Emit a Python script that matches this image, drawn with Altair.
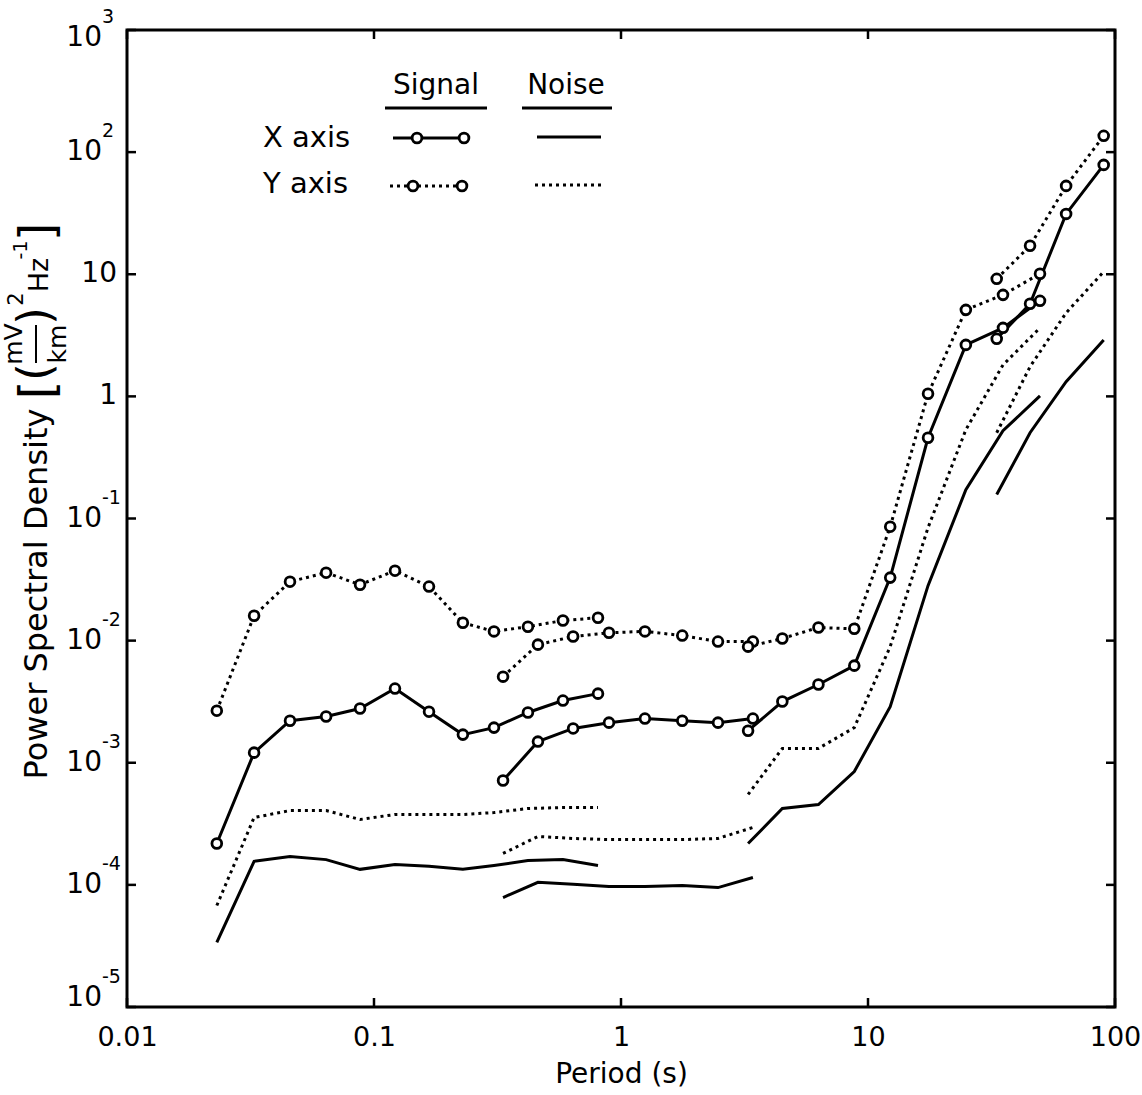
import altair as alt
import pandas as pd

# ---------------- data ----------------
seg1_period = [0.0231, 0.0327, 0.0457, 0.064, 0.0878, 0.1216, 0.167, 0.229, 0.306, 0.42, 0.582, 0.807]
seg2_period = [0.333, 0.461, 0.64, 0.894, 1.25, 1.77, 2.47, 3.42]
seg3_period = [3.27, 4.5, 6.3, 8.8, 12.3, 17.5, 24.9, 35.2, 49.7]
seg4_period = [33.2, 45.3, 63.4, 90.0]

seg1_x_signal = [2.18e-4, 1.21e-3, 2.21e-3, 2.39e-3, 2.78e-3, 4.05e-3, 2.62e-3, 1.70e-3, 1.94e-3, 2.58e-3, 3.23e-3, 3.68e-3]
seg1_y_signal = [2.67e-3, 1.60e-2, 3.04e-2, 3.60e-2, 2.87e-2, 3.74e-2, 2.77e-2, 1.40e-2, 1.19e-2, 1.30e-2, 1.46e-2, 1.54e-2]
seg1_x_noise = [3.38e-5, 1.56e-4, 1.71e-4, 1.61e-4, 1.34e-4, 1.47e-4, 1.42e-4, 1.34e-4, 1.44e-4, 1.58e-4, 1.61e-4, 1.44e-4]
seg1_y_noise = [6.78e-5, 3.56e-4, 4.06e-4, 4.06e-4, 3.43e-4, 3.77e-4, 3.77e-4, 3.77e-4, 3.91e-4, 4.22e-4, 4.30e-4, 4.30e-4]

seg2_x_signal = [7.15e-4, 1.49e-3, 1.91e-3, 2.13e-3, 2.30e-3, 2.21e-3, 2.13e-3, 2.30e-3]
seg2_y_signal = [5.07e-3, 9.27e-3, 1.08e-2, 1.16e-2, 1.19e-2, 1.10e-2, 9.82e-3, 9.82e-3]
seg2_x_noise = [7.88e-5, 1.05e-4, 1.01e-4, 9.7e-5, 9.7e-5, 9.9e-5, 9.5e-5, 1.15e-4]
seg2_y_noise = [1.81e-4, 2.49e-4, 2.40e-4, 2.35e-4, 2.35e-4, 2.35e-4, 2.40e-4, 2.95e-4]

seg3_x_signal = [1.83e-3, 3.17e-3, 4.37e-3, 6.24e-3, 3.28e-2, 0.458, 2.64, 3.64, 6.06]
seg3_y_signal = [8.93e-3, 1.04e-2, 1.28e-2, 1.25e-2, 8.57e-2, 1.05, 5.11, 6.78, 10.1]
seg3_x_noise = [2.18e-4, 4.22e-4, 4.55e-4, 8.47e-4, 2.88e-3, 2.82e-2, 0.172, 0.523, 1.01]
seg3_y_noise = [5.50e-4, 1.31e-3, 1.31e-3, 1.94e-3, 8.93e-3, 8.41e-2, 0.533, 1.81, 3.64]

seg4_x_signal = [2.96, 5.73, 31.2, 78.6]
seg4_y_signal = [9.17, 17.1, 52.9, 136.0]
seg4_x_noise = [0.157, 0.504, 1.32, 2.90]
seg4_y_noise = [0.504, 1.75, 4.83, 10.5]

x_tick_values = [0.01, 0.1, 1, 10, 100]
y_tick_values = [1e3, 1e2, 1e1, 1, 1e-1, 1e-2, 1e-3, 1e-4, 1e-5]
y_label_base = ["10", "10", "10", "1", "10", "10", "10", "10", "10"]
y_label_sup = ["3", "2", "", "", "-1", "-2", "-3", "-4", "-5"]

# ---------------- build table ----------------
rows = []
segments = [
    (1, seg1_period, seg1_x_signal, seg1_y_signal, seg1_x_noise, seg1_y_noise),
    (2, seg2_period, seg2_x_signal, seg2_y_signal, seg2_x_noise, seg2_y_noise),
    (3, seg3_period, seg3_x_signal, seg3_y_signal, seg3_x_noise, seg3_y_noise),
    (4, seg4_period, seg4_x_signal, seg4_y_signal, seg4_x_noise, seg4_y_noise),
]
for seg, per, xs_, ys_, xn, yn in segments:
    for name, vals in [("X signal", xs_), ("Y signal", ys_), ("X noise", xn), ("Y noise", yn)]:
        for p, v in zip(per, vals):
            rows.append({"period": p, "value": v, "series": name, "key": f"{name}-{seg}"})
df = pd.DataFrame(rows)

FONT = "DejaVu Sans"
W, H = 988, 977
PAD_L, PAD_T = 127, 30

xscale = alt.Scale(type="log", domain=[0.01, 100], nice=False)
yscale = alt.Scale(type="log", domain=[1e-5, 1e3], nice=False)
xaxis = alt.Axis(values=x_tick_values, format="~g", ticks=False, domain=False, grid=False,
                 labelFontSize=27, labelFont=FONT, labelColor="black", labelPadding=17,
                 labelOverlap=False, labelFlush=False,
                 title="Period (s)", titleFontSize=28, titleFont=FONT, titleFontWeight="normal",
                 titleColor="black", titlePadding=10)
X = alt.X("period:Q", scale=xscale, axis=xaxis)
Y = alt.Y("value:Q", scale=yscale, axis=None)

base = alt.Chart(df)
solid = base.transform_filter("indexof(datum.series, 'X') == 0").mark_line(
    color="black", strokeWidth=3).encode(x=X, y=Y, detail="key:N")
dotted = base.transform_filter("indexof(datum.series, 'Y') == 0").mark_line(
    color="black", strokeWidth=3, strokeDash=[3, 4]).encode(x=X, y=Y, detail="key:N")
markers = base.transform_filter("indexof(datum.series, 'signal') > 0").mark_point(
    shape="circle", filled=True, fill="white", stroke="black", strokeWidth=2.8, size=95, opacity=1
).encode(x=X, y=Y)

# ticks pointing inward
xt = pd.DataFrame({"period": x_tick_values})
yt = pd.DataFrame({"value": y_tick_values})
tick_b = alt.Chart(xt).mark_rule(color="black", strokeWidth=2.5).encode(x=X, y=alt.value(H - 9), y2=alt.value(H))
tick_t = alt.Chart(xt).mark_rule(color="black", strokeWidth=2.5).encode(x=X, y=alt.value(0), y2=alt.value(9))
tick_l = alt.Chart(yt).mark_rule(color="black", strokeWidth=2.5).encode(y=Y, x=alt.value(0), x2=alt.value(9))
tick_r = alt.Chart(yt).mark_rule(color="black", strokeWidth=2.5).encode(y=Y, x=alt.value(W - 9), x2=alt.value(W))

# y tick labels (10 with superscript exponent)
ylab = pd.DataFrame({"value": y_tick_values, "base": y_label_base, "sup": y_label_sup})


def ylabel_layers(filt, dy):
    b = alt.Chart(ylab).transform_filter(filt).mark_text(
        align="right", baseline="middle", fontSize=28, font=FONT, color="black", dy=dy
    ).encode(y=Y, x=alt.value(-25), text="base:N")
    s = alt.Chart(ylab).transform_filter(filt).mark_text(
        align="left", baseline="middle", fontSize=19, font=FONT, color="black", dy=dy - 21
    ).encode(y=Y, x=alt.value(-25), text="sup:N")
    return [b, s]


ylabs = (ylabel_layers("datum.sup != '' && datum.value < 500 && datum.value > 2e-5", 0)
         + ylabel_layers("datum.value > 500", 8)
         + ylabel_layers("datum.value < 2e-5", -9))
ylab_plain = alt.Chart(ylab).transform_filter("datum.sup == ''").mark_text(
    align="right", baseline="middle", fontSize=28, font=FONT, color="black"
).encode(y=Y, x=alt.value(-10), text="base:N")

anchor = pd.DataFrame({"a": [0]})


def txt(s, x, y, size=26, align="center", angle=0):
    return alt.Chart(anchor).mark_text(text=s, fontSize=size, font=FONT, align=align,
                                       baseline="middle", angle=angle, color="black").encode(
        x=alt.value(x - PAD_L), y=alt.value(y - PAD_T))


def hline(x1, x2, y, dash=None, width=3):
    kw = dict(color="black", strokeWidth=width)
    if dash:
        kw["strokeDash"] = dash
    return alt.Chart(anchor).mark_rule(**kw).encode(
        x=alt.value(x1 - PAD_L), x2=alt.value(x2 - PAD_L), y=alt.value(y - PAD_T))


def vline(x, y1, y2, width=2):
    return alt.Chart(anchor).mark_rule(color="black", strokeWidth=width).encode(
        x=alt.value(x - PAD_L), y=alt.value(y1 - PAD_T), y2=alt.value(y2 - PAD_T))


def dot(x, y):
    return alt.Chart(anchor).mark_point(shape="circle", filled=True, fill="white", stroke="black",
                                        strokeWidth=2.8, size=95, opacity=1).encode(
        x=alt.value(x - PAD_L), y=alt.value(y - PAD_T))


# y-axis title pieces (screen coordinates)
ytitle = [
    txt("Power Spectral Density", 37, 594, size=32, angle=270),
    txt("[", 40, 390, size=48, angle=270),
    txt("(", 36, 372, size=46, angle=270),
    txt("mV", 14, 344, size=25, angle=270),
    txt("km", 58, 344, size=25, angle=270),
    vline(36, 325, 363, width=2),
    txt(")", 36, 316, size=46, angle=270),
    txt("2", 17, 299, size=21, angle=270),
    txt("Hz", 40, 275, size=27, angle=270),
    txt("-1", 21, 250, size=19, angle=270),
    txt("]", 40, 232, size=48, angle=270),
]

legend = [
    txt("Signal", 436, 86, size=28),
    hline(385, 487, 108, width=3),
    txt("Noise", 566, 86, size=28),
    hline(522, 612, 108, width=3),
    txt("X axis", 263, 138, size=29, align="left"),
    txt("Y axis", 263, 184, size=29, align="left"),
    hline(393, 466, 138),
    dot(417, 138), dot(464, 138),
    hline(537, 601, 137),
    hline(390, 462, 186, dash=[3, 4]),
    dot(413, 186), dot(462, 186),
    hline(535, 602, 185, dash=[3, 4]),
]

layers = [solid, dotted, markers, tick_b, tick_t, tick_l, tick_r] + ylabs + [ylab_plain] + ytitle + legend

chart = alt.layer(*layers).properties(
    width=W, height=H,
    padding={"left": PAD_L, "top": PAD_T, "right": 1142 - PAD_L - W, "bottom": 1095 - PAD_T - H},
    autosize=alt.AutoSizeParams(type="none"),
    background="white",
).configure_view(stroke="black", strokeWidth=3)

chart.save("out.html", embed_options={"renderer": "svg", "actions": False})
